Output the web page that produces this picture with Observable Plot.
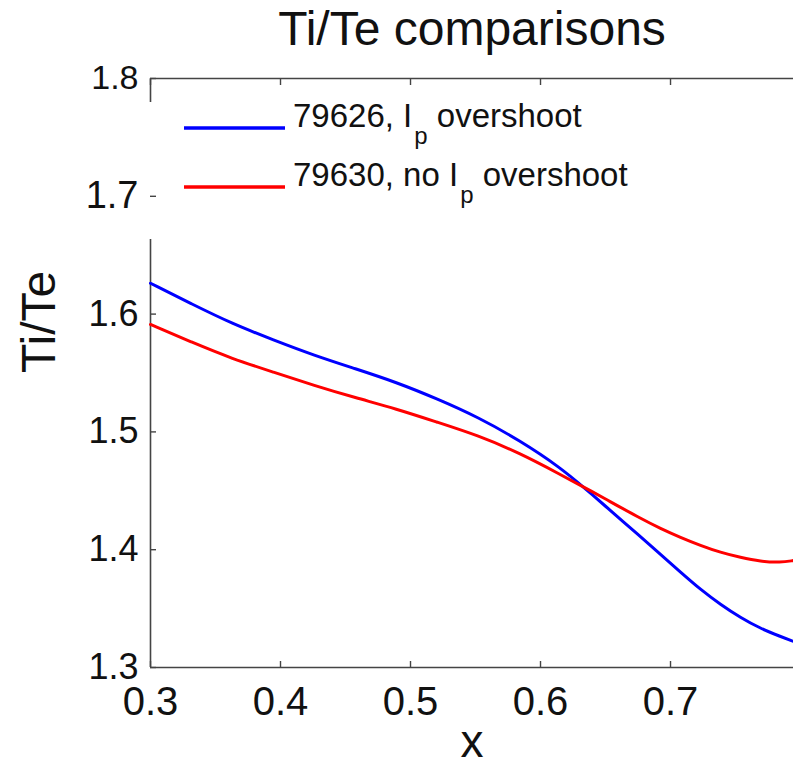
<!DOCTYPE html>
<html>
<head>
<meta charset="utf-8">
<script src="https://cdn.jsdelivr.net/npm/d3@7"></script>
<script src="https://cdn.jsdelivr.net/npm/@observablehq/plot@0.6"></script>
<style>
  html, body { margin: 0; padding: 0; background: #fff; }
  svg { display: block; }
</style>
</head>
<body>
<div id="chart"></div>
<script>
const title = "Ti/Te comparisons";
const xLabel = "x";
const yLabel = "Ti/Te";
const xTicks = [0.3, 0.4, 0.5, 0.6, 0.7];
const yTicks = [1.3, 1.4, 1.5, 1.6, 1.7, 1.8];
const xDomain = [0.3, 0.7946];
const yDomain = [1.3, 1.8];

const xs = [0.300, 0.3315, 0.363, 0.3946, 0.426, 0.4576, 0.489, 0.5207, 0.552, 0.584, 0.615, 0.636, 0.6468, 0.6769, 0.6923, 0.7077, 0.7231, 0.7385, 0.7538, 0.7692, 0.7846, 0.7946];
const blueVals = [1.6262, 1.6087, 1.5918, 1.578, 1.5649, 1.5536, 1.5422, 1.528, 1.5125, 1.4927, 1.47, 1.4503, 1.4400, 1.4110, 1.3960, 1.3810, 1.3662, 1.3535, 1.3424, 1.3331, 1.3263, 1.3221];
const redVals = [1.5912, 1.5762, 1.562, 1.5507, 1.5394, 1.529, 1.5196, 1.5082, 1.4970, 1.4820, 1.4640, 1.4515, 1.4450, 1.4265, 1.4180, 1.4104, 1.4036, 1.3976, 1.3934, 1.3900, 1.3891, 1.3908];
const seriesNames = ["79626", "79630"];
const seriesLabels = [["79626, I", "p", " overshoot"], ["79630, no I", "p", " overshoot"]];
const seriesColors = ["#0000ff", "#ff0000"];

const blue = xs.map((x, i) => ({x, y: blueVals[i]}));
const red = xs.map((x, i) => ({x, y: redVals[i]}));

const axisColor = "#444";
const font = "'Liberation Sans', Arial, sans-serif";

const plot = Plot.plot({
  width: 793,
  height: 767,
  marginLeft: 150,
  marginRight: 0,
  marginTop: 78,
  marginBottom: 100,
  x: {domain: xDomain},
  y: {domain: yDomain},
  style: {fontFamily: font, color: "#000", background: "#fff"},
  marks: [
    Plot.ruleX([xDomain[0]], {stroke: axisColor, strokeWidth: 1.6}),
    Plot.ruleY(yDomain, {stroke: axisColor, strokeWidth: 1.6}),
    Plot.line(blue, {x: "x", y: "y", stroke: seriesColors[0], strokeWidth: 3, curve: "basis"}),
    Plot.line(red, {x: "x", y: "y", stroke: seriesColors[1], strokeWidth: 3, curve: "basis"}),
    Plot.axisY({anchor: "left", ticks: yTicks, tickSize: -6, tickFormat: () => "", label: null, stroke: axisColor, strokeWidth: 1.4}),
    Plot.axisX({anchor: "bottom", ticks: xTicks, tickSize: -6, tickFormat: () => "", label: null, stroke: axisColor, strokeWidth: 1.4}),
    Plot.axisX({anchor: "top", ticks: xTicks, tickSize: -6, tickFormat: () => "", label: null, stroke: axisColor, strokeWidth: 1.4}),
    Plot.text(yTicks, {y: d => d, frameAnchor: "left", dx: -12, textAnchor: "end", fill: "#111",
      fontSize: d => d === 1.7 ? 38 : d === 1.8 ? 34 : 36, text: d => d.toFixed(1)}),
    Plot.text(xTicks, {x: d => d, frameAnchor: "bottom", dy: 47, lineAnchor: "bottom", fill: "#111",
      fontSize: 40, text: d => d.toFixed(1)}),
    Plot.text([title], {frameAnchor: "top", dy: -34, lineAnchor: "bottom", fontSize: 48, fill: "#111"}),
    Plot.text([xLabel], {frameAnchor: "bottom", dy: 89, lineAnchor: "bottom", fontSize: 46, fill: "#111"}),
    Plot.text([yLabel], {frameAnchor: "left", dx: -96, rotate: -90, lineAnchor: "bottom", fontSize: 48, fill: "#111"})
  ]
});

document.getElementById("chart").appendChild(plot);

// legend (white background box covering part of the left axis, as in the original)
const svg = d3.select(plot);
svg.insert("rect", '[aria-label="y-axis tick"]')
  .attr("x", 145).attr("y", 102).attr("width", 520).attr("height", 137)
  .attr("fill", "#fff");

const leg = svg.append("g").attr("font-family", font).attr("fill", "#111").attr("text-anchor", "start");
const rowY = [128, 187];
seriesNames.forEach((name, i) => {
  leg.append("line")
    .attr("x1", 184).attr("x2", 285)
    .attr("y1", rowY[i]).attr("y2", rowY[i])
    .attr("stroke", seriesColors[i]).attr("stroke-width", 3.5);
  const t = leg.append("text")
    .attr("x", 293).attr("y", rowY[i] - 1)
    .attr("font-size", 33);
  t.append("tspan").text(seriesLabels[i][0]);
  t.append("tspan").attr("font-size", 24).attr("dy", 17).attr("dx", 2).text(seriesLabels[i][1]);
  t.append("tspan").attr("dy", -17).text(seriesLabels[i][2]);
});
</script>
</body>
</html>
